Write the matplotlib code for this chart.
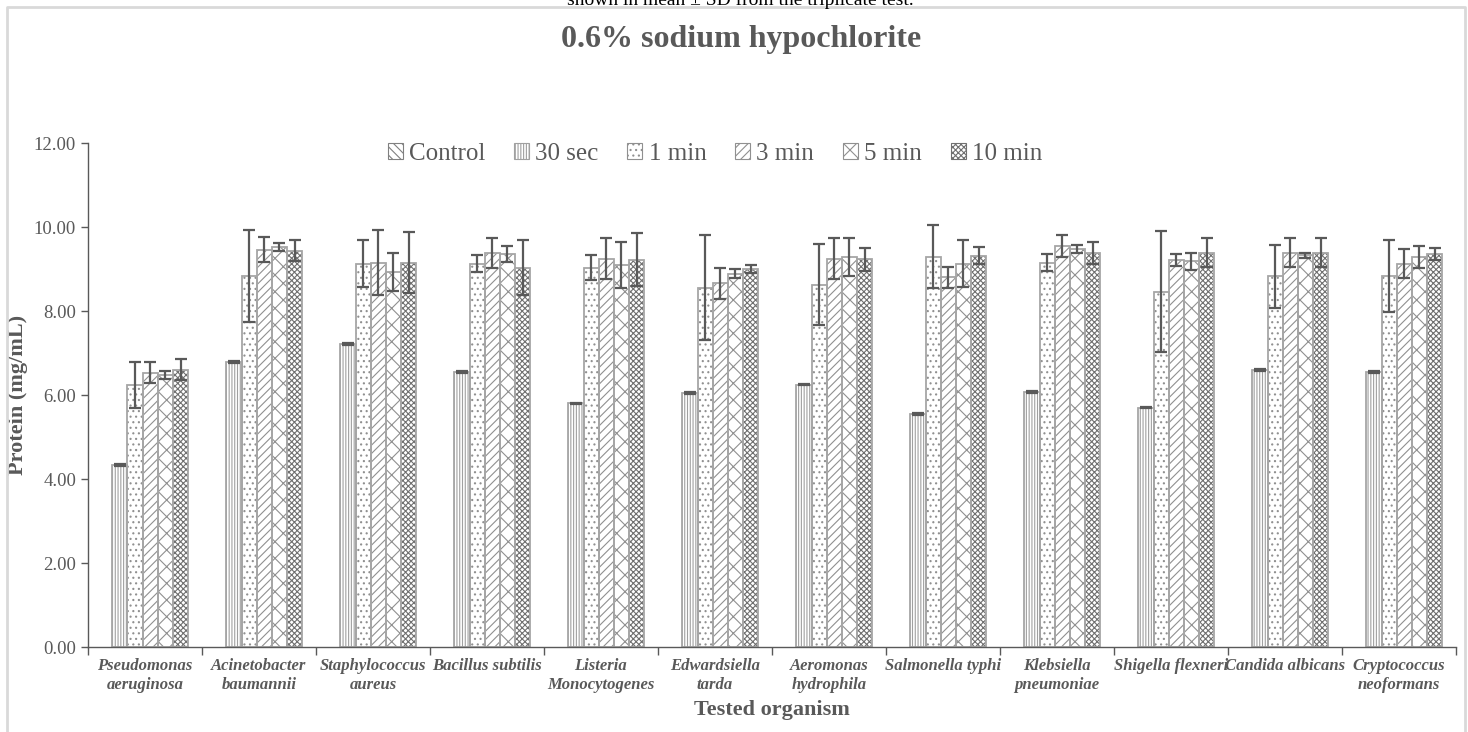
import matplotlib
matplotlib.use("Agg")
import matplotlib.pyplot as plt
import numpy as np
from matplotlib.lines import Line2D
from matplotlib.patches import Patch

plt.rcParams['font.family'] = ['Liberation Serif', 'DejaVu Serif']
plt.rcParams['hatch.linewidth'] = 0.8

organisms = [
	"Pseudomonas\naeruginosa", "Acinetobacter\nbaumannii", "Staphylococcus\naureus",
	"Bacillus subtilis", "Listeria\nMonocytogenes", "Edwardsiella\ntarda",
	"Aeromonas\nhydrophila", "Salmonella typhi", "Klebsiella\npneumoniae",
	"Shigella flexneri", "Candida albicans", "Cryptococcus\nneoformans"
]
series_names = ["Control", "30 sec", "1 min", "3 min", "5 min", "10 min"]

control = [0, 0, 0, 0, 0, 0, 0, 0, 0, 0, 0, 0]
sec30 = [4.33, 6.78, 7.22, 6.55, 5.80, 6.05, 6.25, 5.55, 6.08, 5.70, 6.60, 6.55]
min1 = [6.24, 8.83, 9.13, 9.13, 9.03, 8.56, 8.63, 9.29, 9.15, 8.46, 8.83, 8.83]
min3 = [6.53, 9.46, 9.15, 9.38, 9.25, 8.66, 9.25, 8.80, 9.55, 9.22, 9.39, 9.13]
min5 = [6.47, 9.53, 8.93, 9.36, 9.09, 8.89, 9.29, 9.13, 9.48, 9.18, 9.33, 9.29]
min10 = [6.60, 9.43, 9.15, 9.03, 9.22, 9.00, 9.23, 9.32, 9.39, 9.39, 9.39, 9.36]

control_sd = [0, 0, 0, 0, 0, 0, 0, 0, 0, 0, 0, 0]
sec30_sd = [0.02, 0.02, 0.02, 0.02, 0.02, 0.02, 0.02, 0.02, 0.02, 0.02, 0.02, 0.02]
min1_sd = [0.55, 1.10, 0.55, 0.20, 0.30, 1.25, 0.97, 0.75, 0.20, 1.44, 0.75, 0.85]
min3_sd = [0.25, 0.30, 0.77, 0.36, 0.48, 0.37, 0.49, 0.26, 0.26, 0.14, 0.35, 0.35]
min5_sd = [0.10, 0.10, 0.45, 0.20, 0.55, 0.10, 0.45, 0.55, 0.10, 0.20, 0.06, 0.26]
min10_sd = [0.25, 0.25, 0.72, 0.65, 0.63, 0.09, 0.28, 0.20, 0.26, 0.35, 0.35, 0.14]

values = [control, sec30, min1, min3, min5, min10]
errors = [control_sd, sec30_sd, min1_sd, min3_sd, min5_sd, min10_sd]
hatches = ['\\\\\\\\', '||||||', '...', '////', 'xx', 'xxxxxx']
hatch_colors = ["#808080", "#a0a0a0", "#909090", "#909090", "#909090", "#707070"]

grey = "#595959"
edge = "#a6a6a6"

fig = plt.figure(figsize=(14.68, 7.32), dpi=100)
ax = fig.add_axes([0.0599, 0.1161, 0.9319, 0.6885])

x = np.arange(len(organisms))
w = 0.133

for i in range(len(series_names)):
	pos = x + (i - 2.65) * w
	if i == 0:
		continue  # control bars have no height
	# hatch layer, then outline
	ax.bar(pos, values[i], width=w, color="white", edgecolor=hatch_colors[i],
	       hatch=hatches[i], linewidth=0, zorder=2)
	ax.bar(pos, values[i], width=w, facecolor="none", edgecolor=edge,
	       linewidth=1.3, zorder=2.5)
	ax.errorbar(pos, values[i], yerr=errors[i], fmt='none', ecolor=grey,
	            elinewidth=1.6, capsize=4, capthick=1.6, zorder=3)

ax.set_xlim(-0.5, len(organisms) - 0.5)
ax.set_ylim(0, 12)
ax.set_yticks(np.arange(0, 12.01, 2))
ax.set_yticklabels(["%.2f" % v for v in np.arange(0, 12.01, 2)], fontsize=13.5, color=grey)

ax.set_xticks(x)
ax.set_xticklabels(organisms, fontsize=12, fontweight="bold", fontstyle="italic", color=grey,
                   linespacing=1.25)
ax.set_xticks(np.arange(-0.5, len(organisms)), minor=True)
ax.tick_params(axis='x', which='major', length=0, pad=8)
ax.tick_params(axis='x', which='minor', length=6, color=grey, width=1)
ax.tick_params(axis='y', length=5, color=grey, width=1)

for s in ["top", "right"]:
	ax.spines[s].set_visible(False)
for s in ["left", "bottom"]:
	ax.spines[s].set_color(grey)
	ax.spines[s].set_linewidth(1)

ax.set_ylabel("Protein (mg/mL)", fontsize=16, fontweight="bold", color=grey, labelpad=4)
ax.set_xlabel("Tested organism", fontsize=16, fontweight="bold", color=grey, labelpad=5)

handles = [Patch(facecolor="white", edgecolor=hatch_colors[i], hatch=hatches[i], linewidth=0.8)
           for i in range(len(series_names))]
leg = fig.legend(handles, series_names, loc="center", bbox_to_anchor=(0.487, 0.79),
                 ncol=6, frameon=False, fontsize=18, handlelength=0.6, handleheight=0.6,
                 handletextpad=0.25, columnspacing=1.15)
for t in leg.get_texts():
	t.set_color(grey)

fig.text(0.5046, 0.946, "0.6% sodium hypochlorite", ha="center", va="center",
         fontsize=23, fontweight="bold", color=grey)
fig.text(0.5046, 1 - 5 / 732, "shown in mean \u00b1 SD from the triplicate test.",
         ha="center", va="baseline", fontsize=14, color="black")

# chart frame
fx0, fx1 = 7 / 1468, 1465 / 1468
fy = 1 - 7 / 732
fig.add_artist(Line2D([fx0, fx0, fx1, fx1], [0, fy, fy, 0], color="#d9d9d9", linewidth=2,
                      transform=fig.transFigure))

fig.savefig("out.png", dpi=100)
